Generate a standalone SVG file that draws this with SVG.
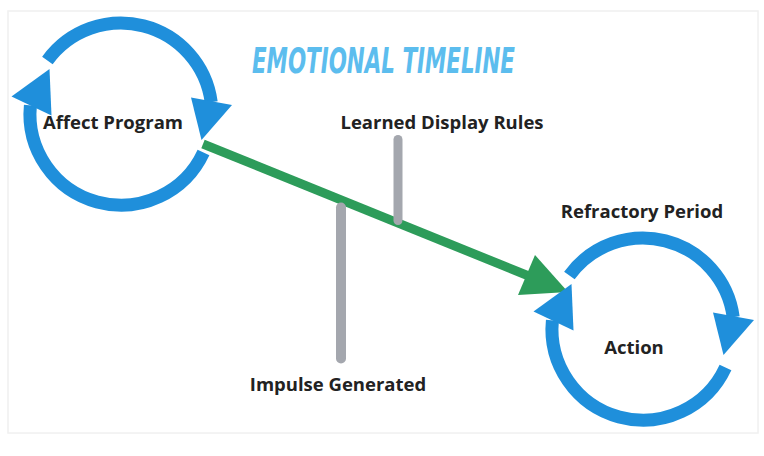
<svg xmlns="http://www.w3.org/2000/svg" xmlns:xlink="http://www.w3.org/1999/xlink" width="764" height="456" viewBox="0 0 764 456">
  <style>
    .lbl { font-family: "Open Sans", "Noto Sans", "DejaVu Sans", sans-serif; font-weight: 700; font-size: 18.5px; fill: #222222; text-anchor: middle; }
    .title { font-family: "DejaVu Sans Condensed", "DejaVu Sans", sans-serif; font-weight: 700; font-style: italic; font-size: 36px; fill: #5cbdee; }
    .arc { fill: none; stroke: #1f8fdb; stroke-width: 13; stroke-linecap: butt; }
    .head { fill: #1f8fdb; }
    .bar { stroke: #a4a7ae; stroke-linecap: round; }
  </style>
  <defs>
    <g id="cycle">
      <path class="arc" d="M -73.6 -53.5 A 91 91 0 0 1 90.2 -11.9"/>
      <path class="arc" d="M 82.5 38.5 A 91 91 0 0 1 -90.6 -8.6"/>
      <polygon class="head" points="70,-16.5 111,-9 80.5,26"/>
      <polygon class="head" points="-109.5,-17.5 -69.5,1.5 -71.5,-45"/>
    </g>
  </defs>
  <rect x="0" y="0" width="764" height="456" fill="#ffffff"/>
  <rect x="8" y="11" width="750" height="422" fill="none" stroke="#f0f0f0" stroke-width="1.5"/>

  <g id="title">
    <text class="title" x="252" y="73" textLength="263" lengthAdjust="spacingAndGlyphs">EMOTIONAL TIMELINE</text>
  </g>

  <g id="connectors">
    <line x1="203" y1="144" x2="530" y2="276.5" stroke="#2d9c5a" stroke-width="9"/>
    <polygon points="568,292 535,255 518,295" fill="#2d9c5a"/>
    <line class="bar" x1="398" y1="139.5" x2="398" y2="220.5" stroke-width="9"/>
    <line class="bar" x1="341" y1="207.5" x2="341" y2="358.5" stroke-width="10"/>
  </g>

  <g id="affect-program">
    <use xlink:href="#cycle" href="#cycle" transform="translate(121,114)"/>
    <text class="lbl" x="113" y="129">Affect Program</text>
  </g>

  <g id="action">
    <use xlink:href="#cycle" href="#cycle" transform="translate(643,329)"/>
    <text class="lbl" x="634" y="353.5">Action</text>
  </g>

  <g id="learned-display-rules">
    <text class="lbl" x="442" y="129">Learned Display Rules</text>
  </g>

  <g id="impulse-generated">
    <text class="lbl" x="338" y="391">Impulse Generated</text>
  </g>

  <g id="refractory-period">
    <text class="lbl" x="642" y="218">Refractory Period</text>
  </g>
</svg>
